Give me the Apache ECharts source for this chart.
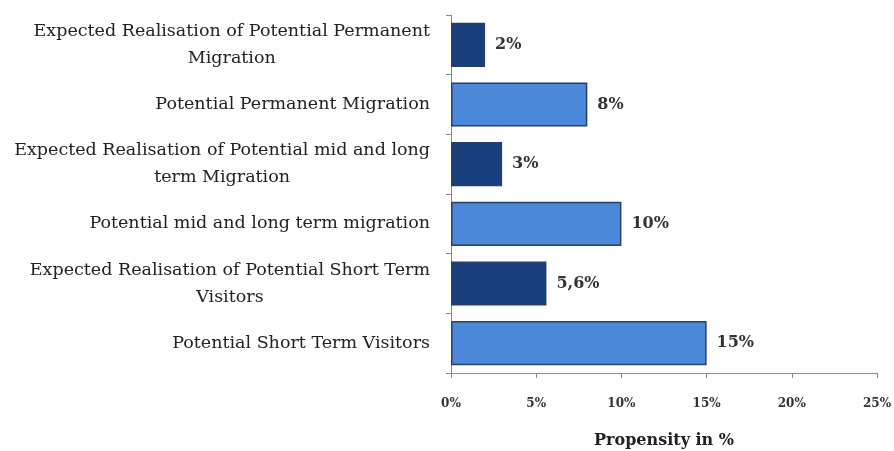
<!DOCTYPE html>
<html>
<head>
<meta charset="utf-8">
<script src="https://cdn.jsdelivr.net/npm/echarts@6/dist/echarts.min.js"></script>
<style>
  html, body { margin: 0; padding: 0; background: #fff; }
  #chart { width: 894px; height: 451px; }
</style>
</head>
<body>
<div id="chart"></div>
<script>
// Categories, listed top to bottom
const categories = [
  'Expected Realisation of Potential Permanent\nMigration',
  'Potential Permanent Migration',
  'Expected Realisation of Potential mid and long\nterm Migration',
  'Potential mid and long term migration',
  'Expected Realisation of Potential Short Term\nVisitors',
  'Potential Short Term Visitors'
];
// Propensity values in %
const propensity = [2, 8, 3, 10, 5.6, 15];
// Which bars are "expected realisation" (dark) vs "potential" (light)
const isExpected = [true, false, true, false, true, false];
const tickValues = [0, 5, 10, 15, 20, 25];

const DARK = '#183f7c';
const LIGHT = '#4c88da';
const EDGE = '#26406a';
const SERIF = '"DejaVu Serif", "Liberation Serif", serif';

const chart = echarts.init(document.getElementById('chart'));
chart.setOption({
  animation: false,
  backgroundColor: '#ffffff',
  grid: { left: 451, right: 17, top: 15, bottom: 78, containLabel: false, outerBoundsMode: 'none' },
  xAxis: {
    type: 'value',
    min: tickValues[0],
    max: tickValues[tickValues.length - 1],
    interval: 5,
    name: 'Propensity in %',
    nameLocation: 'middle',
    nameGap: 60,
    nameTextStyle: { fontFamily: SERIF, fontWeight: 'bold', fontSize: 16, color: '#222' },
    axisLine: { show: true, lineStyle: { color: '#8a8a8a', width: 1 } },
    axisTick: { show: true, length: 5, inside: false, lineStyle: { color: '#8a8a8a' } },
    splitLine: { show: false },
    axisLabel: {
      margin: 25,
      fontFamily: SERIF,
      fontWeight: 'bold',
      fontSize: 12,
      color: '#333',
      formatter: v => v + '%'
    }
  },
  yAxis: {
    type: 'category',
    inverse: true,
    data: categories,
    axisLine: { show: true, lineStyle: { color: '#8a8a8a', width: 1 } },
    axisTick: { show: true, length: 5, lineStyle: { color: '#8a8a8a' } },
    axisLabel: {
      margin: 21,
      align: 'right',
      fontFamily: SERIF,
      fontSize: 17.5,
      color: '#222',
      lineHeight: 27,
      formatter: v => v.split('\n').map(s => '{c|' + s + '}').join('\n'),
      rich: { c: { align: 'center', fontFamily: SERIF, fontSize: 17.5, lineHeight: 27, color: '#222' } }
    }
  },
  series: [{
    type: 'bar',
    barCategoryGap: '26%',
    data: propensity.map((v, i) => ({
      value: v,
      itemStyle: { color: isExpected[i] ? DARK : LIGHT }
    })),
    itemStyle: { borderColor: EDGE, borderWidth: 1.5 },
    label: {
      show: true,
      position: 'right',
      distance: 10,
      fontFamily: SERIF,
      fontWeight: 'bold',
      fontSize: 16,
      color: '#333',
      formatter: p => String(p.value).replace('.', ',') + '%'
    }
  }]
});
</script>
</body>
</html>
